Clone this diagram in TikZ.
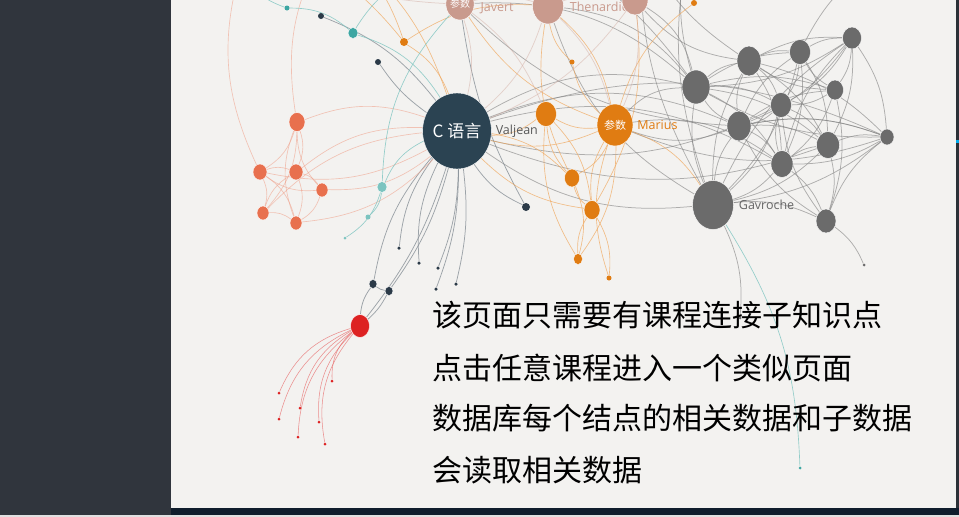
\documentclass[tikz,border=0pt]{standalone}
\usepackage{fontspec}
\setmainfont{Open Sans}
\newfontfamily\cjk{Noto Sans CJK SC}
\usepackage{xcolor}
\usepackage{tikz}
\usetikzlibrary{shapes.geometric,positioning}

\definecolor{side}{HTML}{30353D}
\definecolor{paper}{HTML}{F3F2F0}
\definecolor{navy}{HTML}{0F1D2C}
\definecolor{clnode}{HTML}{2B4352}
\definecolor{pinknd}{HTML}{C99A8D}
\definecolor{orangend}{HTML}{E07C12}
\definecolor{orangeln}{HTML}{F0A558}
\definecolor{coral}{HTML}{E8704E}
\definecolor{tealnd}{HTML}{3DA6A2}
\definecolor{teallt}{HTML}{7CC4C0}
\definecolor{darknd}{HTML}{2B3A48}
\definecolor{rednd}{HTML}{DD2222}
\definecolor{graynd}{HTML}{6B6B6B}

\pgfdeclarelayer{bg}
\pgfdeclarelayer{edges}
\pgfsetlayers{bg,edges,main}

\tikzset{
 nd/.style 2 args={ellipse,inner sep=0pt,minimum width=#1pt,minimum height=#2pt,draw=white,line width=.4pt},
 endpt/.style={circle,inner sep=0pt,minimum size=#1pt},
 lbl/.style={inner sep=0pt,font=\fontsize{12.5}{12.5}\selectfont},
 note/.style={anchor=west,inner sep=0pt,font=\cjk\fontsize{30}{30}\selectfont},
 gline/.style={draw=black!50,draw opacity=.6,line width=.75pt},
 kline/.style={draw=darknd!60,draw opacity=.75,line width=.75pt},
 oline/.style={draw=orangeln,draw opacity=.7,line width=.65pt},
 sline/.style={draw=coral!65,draw opacity=.6,line width=.65pt},
 pline/.style={draw=pinknd!80,draw opacity=.5,line width=.75pt},
 tline/.style={draw=teallt,draw opacity=.8,line width=.65pt},
 rline/.style={draw=rednd!70,draw opacity=.7,line width=.55pt}
}

\begin{document}
\begin{tikzpicture}[x=1pt,y=-1pt]
 \useasboundingbox (0,0) rectangle (959,517);
 \begin{pgfonlayer}{bg}
  \fill[side] (0,0) rectangle (171,517);
  \fill[paper] (171,0) rectangle (956,508);
  \fill[side!90!black] (956,0) rectangle (959,508);
  \fill[cyan] (956,140) rectangle (959,143);
  \fill[navy] (171,508) rectangle (959,515);
  \fill[black!12] (0,515) rectangle (959,517);
 \end{pgfonlayer}

 \begin{scope}
  \clip (171,0) rectangle (956,508);
  % main characters
  \node[nd={66}{76},fill=clnode,text=white,font=\cjk\fontsize{17}{17}\selectfont] (cl) at (457,131) {C 语言};
  \node[lbl,text=black!65] (valjean) [right=4pt of cl] {Valjean};
  \node[nd={28}{32},fill=pinknd,text=white,font=\cjk\fontsize{10}{10}\selectfont] (jav) at (460,4) {参数};
  \node[lbl,text=pinknd,yshift=-4pt] (javert) [right=6pt of jav] {Javert};
  \node[nd={31}{36},fill=pinknd] (thn) at (548,6) {};
  \node[lbl,text=pinknd,yshift=-1pt] (thenardier) [right=6pt of thn] {Thenardier};
  \node[nd={26}{30},fill=pinknd] (th2) at (635,0) {};
  \node[nd={36}{42},fill=orangend,text=white,font=\cjk\fontsize{11}{11}\selectfont] (mar) at (615,125) {参数};
  \node[lbl,text=orangend] (marius) [right=4pt of mar] {Marius};
  % orange group
  \node[nd={21}{25},fill=orangend] (o1) at (546,114) {};
  \node[nd={15}{18},fill=orangend] (o2) at (572,178) {};
  \node[nd={16}{19},fill=orangend] (o3) at (592,210) {};
  \node[nd={9}{11},fill=orangend] (o4) at (578,259) {};
  \node[endpt=5,fill=orangend] (o5) at (609,278) {};
  \node[endpt=8,fill=orangend] (o6) at (404,42) {};
  \node[endpt=5,fill=orangend] (o7) at (572,62) {};
  \node[endpt=6,fill=orangend] (o8) at (694,3) {};
  % teal and dark
  \node[nd={10}{11},fill=tealnd] (t1) at (353,33) {};
  \node[endpt=5,fill=tealnd] (t0) at (287,8) {};
  \node[nd={10}{11},fill=teallt] (t2) at (382,187) {};
  \node[endpt=5,fill=teallt] (t3) at (368,217) {};
  \node[endpt=3,fill=teallt] (t4) at (345,238) {};
  \node[endpt=6,fill=darknd] (k1) at (321,16) {};
  \node[endpt=6,fill=darknd] (k2) at (378,62) {};
  \node[endpt=8,fill=darknd] (k0) at (526,207) {};
  \node[nd={8}{9},fill=darknd] (k3) at (373,284) {};
  \node[nd={8}{9},fill=darknd] (k4) at (389,291) {};
  \foreach \n/\p in {e1/{399,248},e2/{419,263},e3/{438,268},e4/{436,289},e5/{456,284}}
   \node[endpt=3.5,fill=darknd] (\n) at (\p) {};
  % coral group
  \node[nd={16}{19},fill=coral] (s1) at (297,122) {};
  \node[nd={14}{16},fill=coral] (s2) at (260,172) {};
  \node[nd={14}{16},fill=coral] (s3) at (296,172) {};
  \node[nd={12}{14},fill=coral] (s4) at (322,190) {};
  \node[nd={12}{14},fill=coral] (s5) at (263,213) {};
  \node[nd={12}{14},fill=coral] (s6) at (296,223) {};
  % red group
  \node[nd={19}{23},fill=rednd] (red) at (360,326) {};
  \foreach \n/\p in {r1/{279,393},r2/{279,419},r3/{300,408},r4/{298,437},r5/{319,422},r6/{325,444},r7/{332,381}}
   \node[endpt=3,fill=rednd] (\n) at (\p) {};
  % gray group
  \node[nd={28}{34},fill=graynd] (g1) at (696,87) {};
  \node[nd={24}{30},fill=graynd] (g2) at (749,61) {};
  \node[nd={21}{25},fill=graynd] (g3) at (800,52) {};
  \node[nd={19}{22},fill=graynd] (g4) at (852,38) {};
  \node[nd={17}{20},fill=graynd] (g5) at (835,90) {};
  \node[nd={21}{25},fill=graynd] (g6) at (781,105) {};
  \node[nd={24}{30},fill=graynd] (g7) at (739,126) {};
  \node[nd={23}{27},fill=graynd] (g8) at (828,145) {};
  \node[nd={14}{16},fill=graynd] (g9) at (887,137) {};
  \node[nd={22}{27},fill=graynd] (g10) at (782,164) {};
  \node[nd={41}{49},fill=graynd] (gav) at (713,205) {};
  \node[lbl,text=black!60] (gavroche) [right=5pt of gav] {Gavroche};
  \node[nd={20}{24},fill=graynd] (g11) at (826,221) {};
  \node[endpt=3,fill=graynd] (ge1) at (864,265) {};
  \node[endpt=3,fill=graynd] (ge2) at (740,318) {};
  \node[endpt=3,fill=tealnd] (te1) at (800,468) {};
  % ends outside the panel
  \foreach \n/\p in {u1/{250,-60},u2/{330,-60},u3/{520,-60},u4/{690,-60},u5/{640,-60},u6/{880,-40},u7/{420,-40},u8/{430,-30},u9/{240,-30}}
   \coordinate (\n) at (\p);
 \end{scope}

 \begin{pgfonlayer}{edges}
 \begin{scope}
  \clip (171,0) rectangle (956,508);
  \foreach \a/\b in {g1/g2,g1/g3,g1/g6,g1/g8,g1/g10,g1/g5,g2/g3,g2/g4,g2/g6,g2/g10,g2/g8,g3/g4,g3/g6,g3/g8,g3/g10,g4/g5,g4/g7,g4/g6,g4/g9,g4/g8,g5/g6,g5/g10,g5/g11,g6/g7,g6/g8,g6/gav,g7/g8,g7/g10,g7/g9,g8/g9,g8/g11,g9/g10,g9/gav,g10/gav,g10/g11,gav/g11,g1/u4,g2/u5,g3/u6,gav/ge2,g11/ge1}
   \draw[gline] (\a) to[bend left=15] (\b);
  \foreach \a/\b in {g1/g7,g1/gav,g1/g4,g2/g7,g2/g5,g3/g5,g3/g7,g4/g10,g4/gav,g5/g7,g6/g10,g6/g11,g7/gav,g8/g10,g9/g7,g9/g2,g9/g11,gav/g8,gav/g3,g1/g9,g7/g11,g2/gav,u4/gav,u5/gav,g1/u3}
   \draw[gline] (\a) to[bend right=15] (\b);
  % long links from the main characters
  \foreach \a/\b in {cl/g1,cl/g7,cl/g10,cl/g9,jav/g1,thn/g1,th2/g1,mar/g1,mar/g10}
   \draw[gline] (\a) to[bend left=22] (\b);
  \foreach \a/\b in {cl/gav,cl/g8,cl/g6,jav/g7,thn/gav,th2/g2,mar/g7,mar/g9}
   \draw[gline] (\a) to[bend right=20] (\b);
  \draw[tline] (gav) to[bend left=15] (te1);
  % dark links
  \foreach \a/\b in {cl/e1,cl/e2,cl/k3,cl/k0,k3/k4,k3/red,cl/k1}
   \draw[kline] (\a) to[bend right=15] (\b);
  \foreach \a/\b in {cl/e3,cl/e4,cl/e5,cl/k4,k4/red,cl/red,cl/k2,k0/jav}
   \draw[kline] (\a) to[bend left=10] (\b);
  % orange links
  \foreach \a/\b in {mar/o1,mar/o2,mar/o4,mar/cl,mar/o8,mar/gav,mar/jav,o1/cl,o1/o3,o2/o4,o3/o5,o6/cl,o6/thn,o7/thn,cl/o2,o2/thn,u2/o6,u2/cl}
   \draw[oline] (\a) to[bend left=18] (\b);
  \foreach \a/\b in {mar/o3,mar/o5,mar/thn,o1/o2,o2/o3,o3/o4,o1/o4,o6/u1,o7/mar,cl/o3,o3/th2,o8/u4}
   \draw[oline] (\a) to[bend right=18] (\b);
  % coral links
  \foreach \a/\b in {s1/s2,s1/s3,s1/s5,s2/s3,s2/s5,s2/s6,s3/s4,s3/s6,s4/s6,s5/s6,s1/cl,s3/cl,s5/cl,s1/u2,s2/u9}
   \draw[sline] (\a) to[bend left=20] (\b);
  \foreach \a/\b in {s1/s6,s3/s5,s2/s4,s1/s4,s2/cl,s4/cl,s6/cl}
   \draw[sline] (\a) to[bend right=20] (\b);
  % pink links
  \foreach \a/\b in {jav/cl,thn/cl,th2/cl,jav/thn,thn/th2,jav/o1,thn/mar,th2/mar,jav/u1,thn/u3}
   \draw[pline] (\a) to[bend left=15] (\b);
  % teal links
  \foreach \a/\b in {t0/t1,t1/cl,t2/t3,t2/t4,t2/cl,t1/u8,t0/u9,t2/jav}
   \draw[tline] (\a) to[bend left=20] (\b);
  % red links
  \foreach \r in {r1,r2,r3,r4,r5,r6,r7}
   \draw[rline] (red) to[bend right=25] (\r);
 \end{scope}
 \end{pgfonlayer}

 \node[note] (l1) at (432,315) {该页面只需要有课程连接子知识点};
 \node[note] (l2) at (432,368) {点击任意课程进入一个类似页面};
 \node[note] (l3) at (432,418) {数据库每个结点的相关数据和子数据};
 \node[note] (l4) at (432,470) {会读取相关数据};
\end{tikzpicture}
\end{document}
